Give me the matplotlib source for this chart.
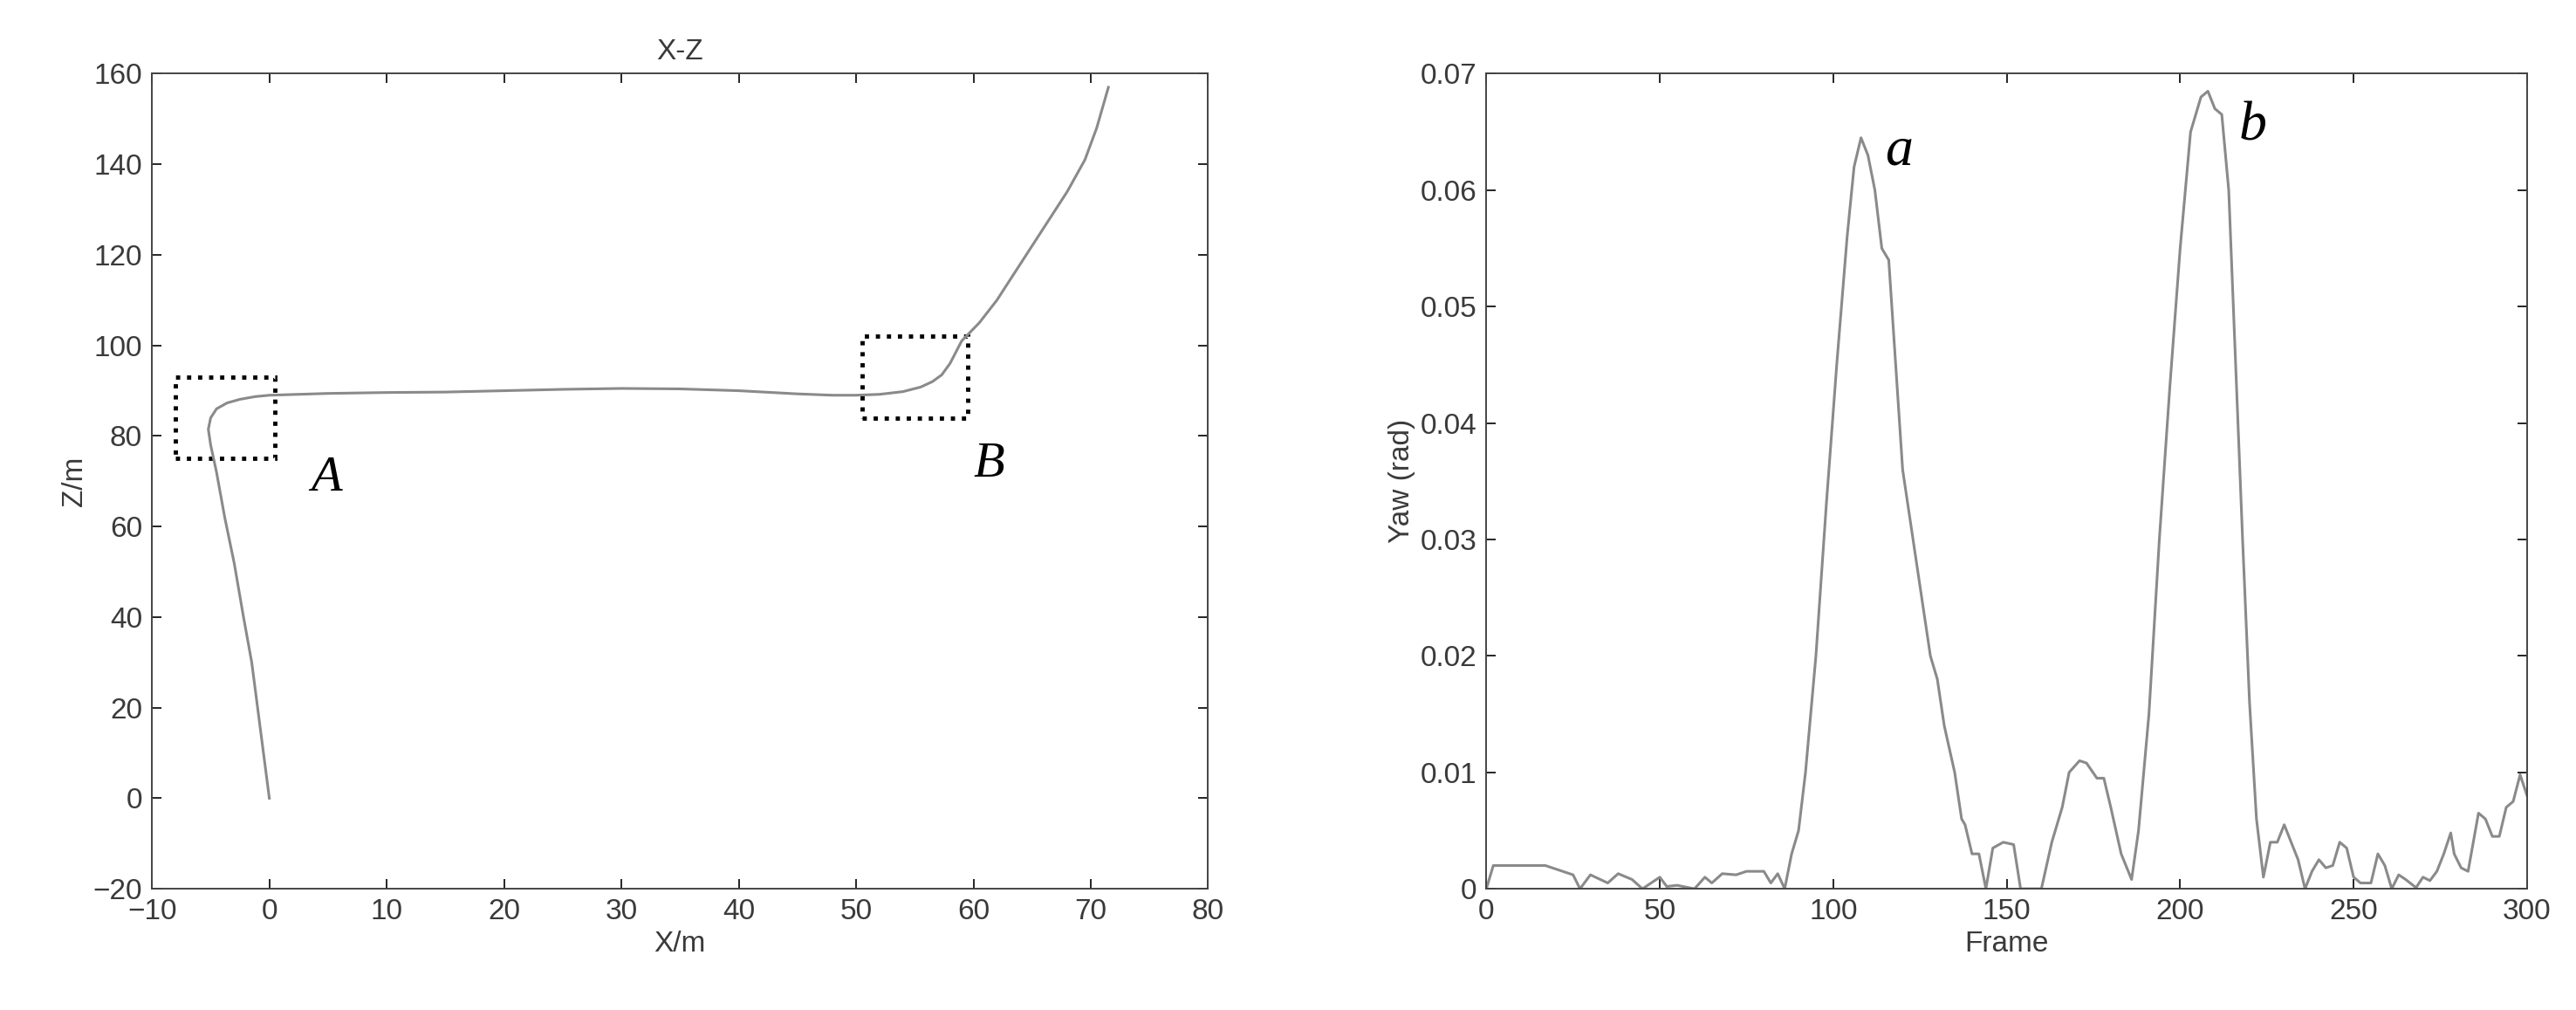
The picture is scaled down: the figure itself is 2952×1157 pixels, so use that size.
import matplotlib.pyplot as plt
from matplotlib.patches import Rectangle

plt.rcParams['font.family'] = ['Liberation Sans', 'DejaVu Sans']

# trajectory X-Z
traj_x = [0, -0.5, -1.0, -1.5, -2.2, -3.0, -3.8, -4.5, -5.0, -5.2, -5.0, -4.5, -3.6, -2.5, -1.2, 0,
          5, 10, 15, 20, 25, 30, 35, 40, 45, 48, 50, 52, 54, 55.5, 56.5, 57.3, 58.0, 59.0, 60.5,
          62, 64, 66, 68, 69.5, 70.5, 71.5]
traj_z = [0, 10, 20, 30, 40, 52, 62, 72, 78, 81.5, 84, 86, 87.3, 88.1, 88.7, 89,
          89.4, 89.6, 89.7, 90, 90.3, 90.5, 90.4, 90, 89.3, 89, 89, 89.2, 89.8, 90.8, 92, 93.5, 96, 101, 105,
          110, 118, 126, 134, 141, 148, 157]

# yaw per frame
frames = [0, 2, 17, 20, 25, 27, 30, 35, 38, 42, 45, 50, 52, 55, 60, 63, 65, 68, 72, 75, 80, 82, 84, 86,
          88, 90, 92, 95, 98, 101, 104, 106, 108, 110, 112, 114, 116, 118, 120, 123, 126, 128, 130,
          132, 135, 137, 138, 140, 142, 144, 146, 149, 152, 154, 160, 163, 166, 168, 171, 173, 176,
          178, 180, 183, 186, 188, 191, 194, 197, 200, 203, 206, 208, 210, 212, 214, 216, 218, 220,
          222, 224, 226, 228, 230, 232, 234, 236, 238, 240, 242, 244, 246, 248, 250, 252, 255, 257,
          259, 261, 263, 265, 268, 270, 272, 274, 276, 278, 279, 281, 283, 286, 288, 290, 292, 294,
          296, 298, 300]
yaw = [0, 0.002, 0.002, 0.0017, 0.0012, 0, 0.0012, 0.0005, 0.0013, 0.0008, 0, 0.001, 0.0002, 0.0003,
       0, 0.001, 0.0005, 0.0013, 0.0012, 0.0015, 0.0015, 0.0005, 0.0013, 0,
       0.003, 0.005, 0.01, 0.02, 0.033, 0.045, 0.056, 0.062, 0.0645, 0.063, 0.06, 0.055, 0.054,
       0.045, 0.036, 0.03, 0.024, 0.02, 0.018, 0.014, 0.01, 0.006, 0.0055, 0.003, 0.003, 0, 0.0035,
       0.004, 0.0038, 0, 0, 0.004, 0.007, 0.01, 0.011, 0.0108, 0.0095, 0.0095, 0.007, 0.003, 0.0008,
       0.005, 0.015, 0.03, 0.043, 0.055, 0.065, 0.068, 0.0685, 0.067, 0.0665, 0.06, 0.045, 0.03,
       0.016, 0.006, 0.001, 0.004, 0.004, 0.0055, 0.004, 0.0025, 0, 0.0015, 0.0025, 0.0018, 0.002,
       0.004, 0.0035, 0.001, 0.0005, 0.0005, 0.003, 0.002, 0, 0.0012, 0.0008, 0.0001, 0.001, 0.0007,
       0.0015, 0.003, 0.0048, 0.003, 0.0018, 0.0015, 0.0065, 0.006, 0.0045, 0.0045, 0.007, 0.0075,
       0.0098, 0.008]

fig = plt.figure(figsize=(29.52, 11.57), dpi=100)
ax1 = fig.add_axes([0.059, 0.12, 0.41, 0.807])
ax2 = fig.add_axes([0.577, 0.12, 0.404, 0.807])

line_c = '#8a8a8a'
txt_c = '#3a3a3a'
fs = 24
ax1.plot(traj_x, traj_z, color=line_c, lw=2.2)
for (x0, y0, w, h) in [(-8, 75, 8.5, 18), (50.5, 84, 9, 18)]:
    ax1.add_patch(Rectangle((x0, y0), w, h, fill=False, ls=(0, (1, 1.6)), lw=3.5, ec='black'))
ax1.text(3.5, 68, 'A', family='Liberation Serif', style='italic', fontsize=42)
ax1.text(60, 71, 'B', family='Liberation Serif', style='italic', fontsize=42)
ax1.set_xlim(-10, 80)
ax1.set_ylim(-20, 160)
ax1.set_title('X-Z', fontsize=fs, color=txt_c, pad=12)
ax1.set_xlabel('X/m', fontsize=fs, color=txt_c)
ax1.set_ylabel('Z/m', fontsize=fs, color=txt_c)

ax2.plot(frames, yaw, color=line_c, lw=2.2)
ax2.text(115, 0.0622, 'a', family='Liberation Serif', style='italic', fontsize=46)
ax2.text(217, 0.0643, 'b', family='Liberation Serif', style='italic', fontsize=46)
ax2.set_xlim(0, 300)
ax2.set_ylim(0, 0.07)
ax2.set_yticks([0, 0.01, 0.02, 0.03, 0.04, 0.05, 0.06, 0.07])
ax2.set_yticklabels(['0', '0.01', '0.02', '0.03', '0.04', '0.05', '0.06', '0.07'])
ax2.set_xlabel('Frame', fontsize=fs, color=txt_c)
ax2.set_ylabel('Yaw (rad)', fontsize=fs, color=txt_c)

for ax in (ax1, ax2):
    ax.tick_params(direction='in', top=True, right=True, labelsize=fs, labelcolor=txt_c,
                   length=8, width=1.2, pad=8)
    for s in ax.spines.values():
        s.set_linewidth(1.4)
        s.set_color('#444444')

fig.savefig('out.png')
